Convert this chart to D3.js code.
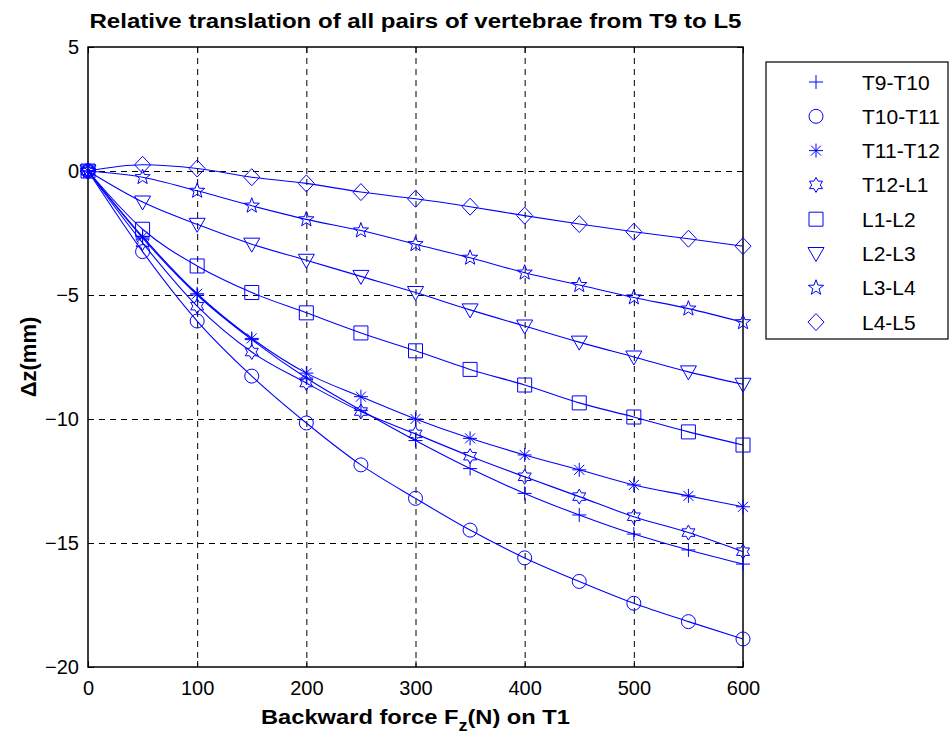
<!DOCTYPE html>
<html>
<head>
<meta charset="utf-8">
<script src="https://cdn.jsdelivr.net/npm/d3@7"></script>
<style>
  html, body { margin: 0; padding: 0; background: #fff; }
  svg { display: block; font-family: "Liberation Sans", Arial, sans-serif; }
</style>
</head>
<body>
<svg id="chart" width="952" height="736"></svg>
<script>
// Backward force on T1 (N)
const forces = [0, 50, 100, 150, 200, 250, 300, 350, 400, 450, 500, 550, 600];

// Relative translation Δz (mm) for each pair of vertebrae
const t9t10  = [0, -2.7, -5.0, -6.8, -8.35, -9.65, -10.87, -12.0, -13.0, -13.87, -14.64, -15.28, -15.85];
const t10t11 = [0, -3.25, -6.05, -8.27, -10.16, -11.85, -13.2, -14.48, -15.6, -16.55, -17.43, -18.17, -18.87];
const t11t12 = [0, -2.65, -4.95, -6.75, -8.15, -9.1, -10.0, -10.78, -11.45, -12.05, -12.66, -13.1, -13.54];
const t12l1  = [0, -2.9, -5.45, -7.3, -8.55, -9.7, -10.6, -11.5, -12.33, -13.13, -13.94, -14.58, -15.35];
const l1l2   = [0, -2.35, -3.83, -4.9, -5.72, -6.53, -7.25, -8.0, -8.63, -9.35, -9.92, -10.52, -11.05];
const l2l3   = [0, -1.25, -2.15, -2.95, -3.6, -4.25, -4.9, -5.6, -6.25, -6.9, -7.5, -8.1, -8.6];
const l3l4   = [0, -0.25, -0.8, -1.4, -1.95, -2.4, -2.95, -3.5, -4.1, -4.6, -5.1, -5.55, -6.1];
const l4l5   = [0, 0.25, 0.1, -0.25, -0.5, -0.85, -1.12, -1.44, -1.8, -2.14, -2.45, -2.73, -3.03];

const seriesNames = ["T9-T10", "T10-T11", "T11-T12", "T12-L1", "L1-L2", "L2-L3", "L3-L4", "L4-L5"];
const seriesValues = [t9t10, t10t11, t11t12, t12l1, l1l2, l2l3, l3l4, l4l5];
const seriesMarkers = ["plus", "circle", "asterisk", "hexagram", "square", "triangleDown", "pentagram", "diamond"];

const xTicks = [0, 100, 200, 300, 400, 500, 600];
const yTicks = [5, 0, -5, -10, -15, -20];

const titleText = "Relative translation of all pairs of vertebrae from T9 to L5";

const blue = "#0000ff";
const svg = d3.select("#chart");

const plot = { left: 88, right: 743, top: 47, bottom: 667 };
const x = d3.scaleLinear().domain([0, 600]).range([plot.left, plot.right]);
const y = d3.scaleLinear().domain([-20, 5]).range([plot.bottom, plot.top]);

// Grid lines
const grid = svg.append("g").attr("stroke", "#000").attr("stroke-width", 1)
  .attr("stroke-dasharray", "6,5").attr("fill", "none");
xTicks.slice(1, -1).forEach(t => {
  grid.append("line").attr("x1", x(t) + 0.5).attr("x2", x(t) + 0.5)
    .attr("y1", plot.top).attr("y2", plot.bottom);
});
yTicks.slice(1, -1).forEach(t => {
  grid.append("line").attr("x1", plot.left).attr("x2", plot.right)
    .attr("y1", y(t) + 0.5).attr("y2", y(t) + 0.5);
});

// Axes with inward ticks on all four sides
const tickLen = 6;
const axBottom = d3.axisBottom(x).tickValues(xTicks).tickSizeInner(-tickLen).tickSizeOuter(0).tickPadding(14);
const axTop = d3.axisTop(x).tickValues(xTicks).tickSizeInner(-tickLen).tickSizeOuter(0).tickFormat("");
const axLeft = d3.axisLeft(y).tickValues(yTicks).tickSizeInner(-tickLen).tickSizeOuter(0).tickPadding(9);
const axRight = d3.axisRight(y).tickValues(yTicks).tickSizeInner(-tickLen).tickSizeOuter(0).tickFormat("");

function styleAxis(g) {
  g.select(".domain").remove();
  g.selectAll("line").attr("stroke", "#000");
  g.selectAll("text").attr("fill", "#000").attr("font-size", 20)
    .attr("font-family", "Liberation Sans, Arial, sans-serif");
}
svg.append("g").attr("transform", `translate(0,${plot.bottom})`).call(axBottom).call(styleAxis);
svg.append("g").attr("transform", `translate(0,${plot.top})`).call(axTop).call(styleAxis);
svg.append("g").attr("transform", `translate(${plot.left},0)`).call(axLeft).call(styleAxis);
svg.append("g").attr("transform", `translate(${plot.right},0)`).call(axRight).call(styleAxis);

// Frame
svg.append("rect").attr("x", plot.left).attr("y", plot.top)
  .attr("width", plot.right - plot.left).attr("height", plot.bottom - plot.top)
  .attr("fill", "none").attr("stroke", "#000").attr("stroke-width", 1.5);

// Marker path generators (centered at 0,0)
function starPath(points, rOuter, rInner, rot) {
  const pts = [];
  for (let i = 0; i < points * 2; i++) {
    const r = i % 2 === 0 ? rOuter : rInner;
    const a = rot + i * Math.PI / points;
    pts.push([r * Math.sin(a), -r * Math.cos(a)]);
  }
  return "M" + pts.map(p => p[0].toFixed(2) + "," + p[1].toFixed(2)).join("L") + "Z";
}
const markerPaths = {
  plus: "M-7,0L7,0M0,-7L0,7",
  circle: d3.arc()({ innerRadius: 0, outerRadius: 7, startAngle: 0, endAngle: 2 * Math.PI }),
  asterisk: "M-7,0L7,0M0,-7L0,7M-5,-5L5,5M-5,5L5,-5",
  hexagram: starPath(6, 7.5, 4.3, 0),
  square: "M-7,-7L7,-7L7,7L-7,7Z",
  triangleDown: "M-8,-6L8,-6L0,8Z",
  pentagram: starPath(5, 8, 3.3, 0),
  diamond: "M0,-8.5L8,0L0,8.5L-8,0Z"
};

// Curves and markers
const line = d3.line().x(d => x(d[0])).y(d => y(d[1])).curve(d3.curveMonotoneX);
seriesValues.forEach((vals, i) => {
  const pts = forces.map((f, j) => [f, vals[j]]);
  svg.append("path").datum(pts).attr("d", line)
    .attr("fill", "none").attr("stroke", blue).attr("stroke-width", 1.1);
  svg.append("g").selectAll("path").data(pts).join("path")
    .attr("transform", d => `translate(${x(d[0])},${y(d[1])})`)
    .attr("d", markerPaths[seriesMarkers[i]])
    .attr("fill", "none").attr("stroke", blue).attr("stroke-width", 1);
});

// Title
svg.append("text").attr("x", (plot.left + plot.right) / 2).attr("y", 28)
  .attr("text-anchor", "middle").attr("font-weight", "bold").attr("font-size", 20)
  .attr("textLength", 652).attr("lengthAdjust", "spacingAndGlyphs")
  .text(titleText);

// X axis label with subscript
const xl = svg.append("text").attr("x", (plot.left + plot.right) / 2).attr("y", 724)
  .attr("text-anchor", "middle").attr("font-weight", "bold").attr("font-size", 21)
  .attr("textLength", 309).attr("lengthAdjust", "spacingAndGlyphs");
xl.append("tspan").text("Backward force F");
xl.append("tspan").attr("dy", 7).attr("font-size", 16).text("z");
xl.append("tspan").attr("dy", -7).text("(N) on T1");

// Y axis label
svg.append("text").attr("transform", `translate(36,${(plot.top + plot.bottom) / 2}) rotate(-90)`)
  .attr("text-anchor", "middle").attr("font-weight", "bold").attr("font-size", 22)
  .text("Δz(mm)");

// Legend
const lg = { x: 766, y: 62, w: 182, h: 277 };
svg.append("rect").attr("x", lg.x).attr("y", lg.y).attr("width", lg.w).attr("height", lg.h)
  .attr("fill", "#fff").attr("stroke", "#000").attr("stroke-width", 1.2);
const rowH = 34.3;
seriesNames.forEach((name, i) => {
  const cy = lg.y + 20 + i * rowH;
  svg.append("path").attr("transform", `translate(${lg.x + 50},${cy})`)
    .attr("d", markerPaths[seriesMarkers[i]])
    .attr("fill", "none").attr("stroke", blue).attr("stroke-width", 1);
  svg.append("text").attr("x", lg.x + 96).attr("y", cy + 7.5)
    .attr("font-size", 21).attr("fill", "#000").text(name);
});
</script>
</body>
</html>
